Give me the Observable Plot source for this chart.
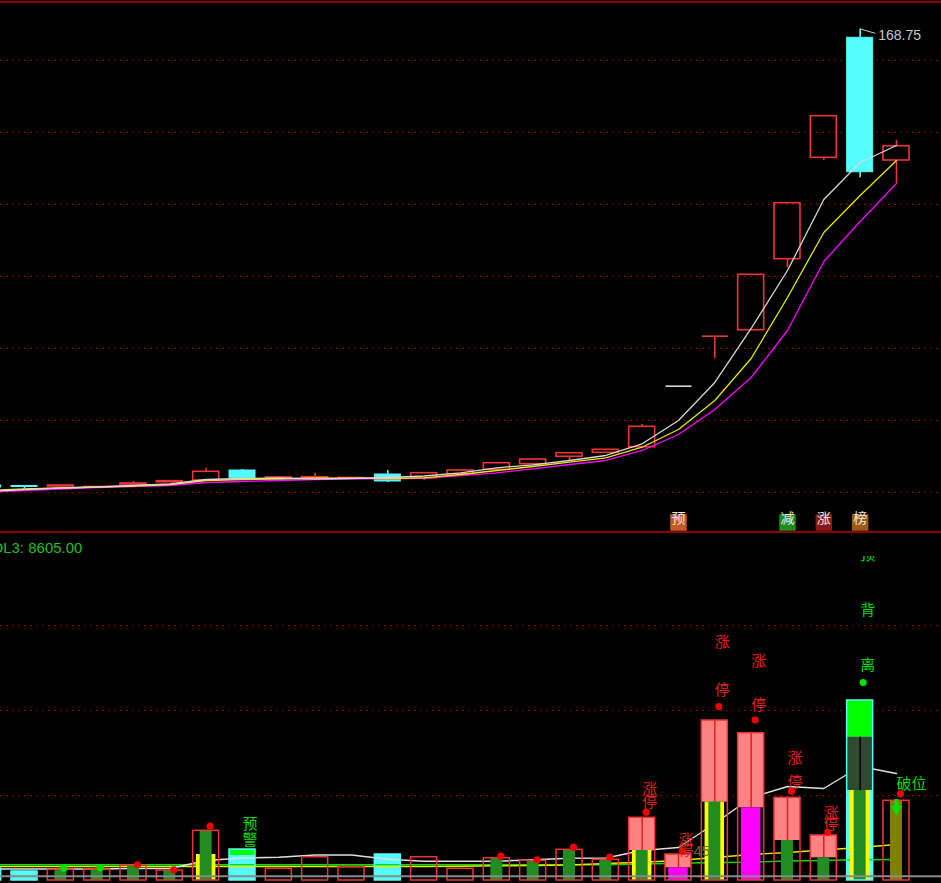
<!DOCTYPE html>
<html><head><meta charset="utf-8">
<script src="https://cdn.jsdelivr.net/npm/d3@7"></script>
<script src="https://cdn.jsdelivr.net/npm/@observablehq/plot@0.6"></script>
<style>
html,body{margin:0;padding:0;background:#000;}
#wrap{position:relative;width:941px;height:883px;overflow:hidden;background:#000;}
#topPanel,#botPanel{position:absolute;left:0;}
#topPanel{top:0;} #botPanel{top:532px;}
.hl{position:absolute;left:0;width:941px;height:2px;background:#8c0000;}
</style></head><body>
<div id="wrap"><div id="topPanel"></div><div id="botPanel"></div>
<div class="hl" style="top:1px"></div><div class="hl" style="top:531px"></div></div>
<script>
// ---------- data ----------
const idx = d3.range(-1, 25); // bar positions (bar -1 is only partly on screen)
const open  = [41.94,41.81,41.67,41.39,42.22,42.86,43.33,46.11,43.89,44.03,43.89,45.00,43.97,45.08,46.31,47.86,49.92,51.03,52.58,69.53,83.42,85.08,104.81,132.97,166.31,132.22];
const close = [41.39,41.53,41.94,41.53,42.50,43.14,45.75,43.97,44.17,44.25,44.03,43.06,45.36,46.11,48.14,49.17,50.92,51.86,58.25,69.53,83.42,100.47,120.36,144.53,128.97,136.19];
const high  = [41.94,41.94,41.94,41.67,43.06,43.14,46.75,46.39,44.31,45.36,44.03,46.11,45.36,46.11,48.14,49.17,50.92,51.86,58.89,69.53,83.42,100.47,120.36,144.53,168.75,137.78];
const low   = [41.11,41.11,41.67,41.25,42.22,42.78,43.33,43.89,43.75,43.89,43.61,42.78,43.33,45.08,46.31,47.50,48.89,50.83,52.58,69.53,77.14,85.08,102.42,132.22,127.42,125.83];
const maWhite   = [40.28,40.83,41.25,41.53,41.94,42.36,43.61,43.89,44.03,43.75,43.89,44.17,44.58,45.47,46.86,47.69,48.89,50.28,53.53,60.00,70.56,85.56,101.67,121.39,131.67,136.39];
const maYellow  = [40.56,40.97,41.25,41.53,41.81,42.22,43.33,43.61,43.75,44.03,43.97,43.89,44.08,45.00,46.11,47.22,48.42,49.64,52.58,57.50,65.56,77.22,94.17,112.22,122.50,132.22];
const maMagenta = [40.14,40.56,40.97,41.39,41.67,41.94,42.78,43.06,43.33,43.61,43.81,43.81,43.94,44.72,45.47,46.58,47.78,48.89,51.67,56.11,63.06,71.94,85.00,104.17,115.28,125.83];
const priceGrid = [40,60,80,100,120,140,160];
const tagBars = [18,21,22,23];
const tagText = ["预","减","涨","榜"];

const volume = [1215,911,1083,1114,1519,1012,5032,3138,1185,2359,1346,2632,2359,1185,2258,1994,3108,2096,6348,2632,16198,14913,8373,4556,18223,8069];
const volWhite  = [1164,1164,1164,1164,1215,1215,2025,2278,2359,2582,2582,2156,1954,1954,1954,2096,2258,2278,3037,3341,5771,8403,9517,9314,11541,10833];
const volYellow = [1417,1417,1417,1417,1417,1417,1417,1417,1417,1417,1417,1417,1417,1448,1488,1519,1569,1721,1853,2025,2329,2632,2835,3088,3341,3645];
const volGreen  = [1589,1589,1589,1589,1589,1589,1589,1589,1589,1589,1589,1589,1589,1589,1589,1589,1589,1589,1670,1751,1822,1853,1974,2025,2096,2126];
const volGrid = [8605,17210,25815];
const refLevel = 430;
const greenBars = [1,2,3,4,5,13,14,15,16,17,19,21,22,23];
const greenVol  = [1083,1114,1519,1012,5032,2258,1994,3108,2096,3037,7927,4050,2298,9112];
const yellowBars = [5,17,19,23];
const yellowVol  = [2632,3037,7927,9112];
const magentaBars = [18,20];
const magentaVol  = [1286,7360];
const oliveBars = [24];
const oliveVol  = [8069];
const pinkBars = [17,18,19,20,21,22];
const pinkLow  = [3037,1286,7927,7360,4050,2298];
const brightBars = [6,23];
const brightLow  = [2531,14508];
const darkBars = [23];
const darkLow  = [9112];
const darkHigh = [14508];
const redDotBars = [3,4,5,13,14,15,16,17,18,19,20,21,22,24];
const redDotVol  = [1589,1083,5497,2460,2096,3371,2359,6915,2966,17616,16269,9041,4890,8777];
const greenDotBars = [1,2,23];
const greenDotVol  = [1245,1286,20046];
const limitBars = [17,18,19,20,21,22];
const zhangVol  = [9284,4050,24125,22202,12422,6813];
const tingVol   = [7927,3037,19236,17717,9952,5740];
const sigBars = [6,6,23,23,23,24];
const sigText = ["预","警","顶","背","离","破位"];
const sigVol  = [5669,4050,32903,27335,21767,9719];
const arrowBar = 24, arrowTop = 8200, arrowTail = 7492, arrowHead = 7239;
const noteBar = 18, noteText = "45", noteVol = 2936;
const volTitle = "VOL3: 8605.00";

// ---------- styles ----------
const RED = "#ee3434", CYAN = "#54fcfc", GRID = "#8c0000";
const FONT = "'Liberation Sans','Noto Sans CJK SC',sans-serif";
const W = 0.358, M = 0.268, N = 0.165;
const xScale = {domain: [-0.6606, 25.239], axis: null};
const tagFill = {"预":"#c65a24","减":"#1e8c1e","涨":"#8b1818","榜":"#9a5a1e"};

// ---------- top (price) panel ----------
const candles = idx.map((i,k) => {
  const o = open[k], c = close[k], h = high[k], l = low[k];
  const color = h === l ? "#d8d8d8" : (c >= o ? RED : CYAN);
  return {i, o, c, h, l, hi: Math.max(o,c), lo: Math.min(o,c), color, down: c < o};
});
const maRows = (arr) => arr.map((v,k) => ({i: idx[k], v}));

const priceChart = Plot.plot({
  width: 941, height: 532, margin: 0,
  x: xScale,
  y: {domain: [28.889, 176.667], axis: null},
  color: {type: "identity"},
  style: {background: "#000", fontFamily: FONT},
  marks: [
    Plot.ruleY(priceGrid, {stroke: GRID, strokeDasharray: "2,4", strokeWidth: 1}),
    Plot.ruleX(candles.filter(d => d.h > d.hi), {x: "i", y1: "hi", y2: "h", stroke: "color", strokeWidth: 1.6}),
    Plot.ruleX(candles.filter(d => d.l < d.lo), {x: "i", y1: "lo", y2: "l", stroke: "color", strokeWidth: 1.6}),
    Plot.rect(candles.filter(d => d.o !== d.c && !d.down), {x1: d => d.i - W, x2: d => d.i + W, y1: "o", y2: "c", fill: "none", stroke: RED, strokeWidth: 1.6}),
    Plot.rect(candles.filter(d => d.down), {x1: d => d.i - W, x2: d => d.i + W, y1: "o", y2: "c", fill: CYAN, stroke: CYAN, strokeWidth: 1}),
    Plot.link(candles.filter(d => d.o === d.c), {x1: d => d.i - W, x2: d => d.i + W, y1: "o", y2: "o", stroke: "color", strokeWidth: 1.6}),
    Plot.line(maRows(maMagenta), {x: "i", y: "v", stroke: "#ff00ff", strokeWidth: 1.3}),
    Plot.line(maRows(maYellow), {x: "i", y: "v", stroke: "#e8e800", strokeWidth: 1.3}),
    Plot.line(maRows(maWhite), {x: "i", y: "v", stroke: "#d8d8d8", strokeWidth: 1.3}),
    Plot.link([candles[24]], {x1: "i", y1: "h", x2: d => d.i + 0.42, y2: d => d.h - 1.2, stroke: "#c8c8c8", strokeWidth: 1}),
    Plot.text([candles[24]], {x: "i", y: "h", text: d => d.h.toFixed(2), dx: 18, dy: 7, textAnchor: "start", fill: "#c8c8c8", fontSize: 14}),
    Plot.dot(tagBars.map((b,j) => ({b, t: tagText[j]})), {x: "b", frameAnchor: "bottom", dy: -10, symbol: "square", r: 9.3, fill: d => tagFill[d.t], stroke: null}),
    Plot.text(tagBars.map((b,j) => ({b, t: tagText[j]})), {x: "b", text: "t", frameAnchor: "bottom", dy: -10, fill: "#f6e8dc", fontSize: 14})
  ]
});
document.getElementById("topPanel").appendChild(priceChart);

// ---------- bottom (volume indicator) panel ----------
const vols = idx.map((i,k) => ({i, v: volume[k], down: close[k] < open[k]}));
const band = (bars, lo, hi, w) => bars.map((b,j) => ({i: b, x1: b - w, x2: b + w, y1: lo[j], y2: hi[j]}));
const zeros = (a) => a.map(() => 0);
const volOf = (bars) => bars.map(b => volume[b + 1]);

const volChart = Plot.plot({
  width: 941, height: 351, marginTop: 24, marginBottom: 3, marginLeft: 0, marginRight: 0,
  x: xScale,
  y: {domain: [0, 32802], axis: null},
  color: {type: "identity"},
  style: {background: "#000", fontFamily: FONT},
  marks: [
    Plot.ruleY(volGrid, {stroke: GRID, strokeDasharray: "2,4", strokeWidth: 1}),
    Plot.rect(vols.filter(d => d.down), {x1: d => d.i - W, x2: d => d.i + W, y1: 0, y2: "v", fill: CYAN}),
    Plot.line(maRows(volGreen), {x: "i", y: "v", stroke: "#00e000", strokeWidth: 1.4}),
    Plot.line(maRows(volYellow), {x: "i", y: "v", stroke: "#e8e800", strokeWidth: 1.4}),
    Plot.line(maRows(volWhite), {x: "i", y: "v", stroke: "#e0e0e0", strokeWidth: 1.4}),
    Plot.rect(band(pinkBars, pinkLow, volOf(pinkBars), W), {x1: "x1", x2: "x2", y1: "y1", y2: "y2", fill: "#ff8282"}),
    Plot.rect(band(brightBars, brightLow, volOf(brightBars), W), {x1: "x1", x2: "x2", y1: "y1", y2: "y2", fill: "#00ff00"}),
    Plot.rect(band(darkBars, darkLow, darkHigh, W), {x1: "x1", x2: "x2", y1: "y1", y2: "y2", fill: "#2f4a2f"}),
    Plot.rect(band(yellowBars, zeros(yellowBars), yellowVol, M), {x1: "x1", x2: "x2", y1: "y1", y2: "y2", fill: "#ffff00"}),
    Plot.rect(band(magentaBars, zeros(magentaBars), magentaVol, M), {x1: "x1", x2: "x2", y1: "y1", y2: "y2", fill: "#ff00ff"}),
    Plot.rect(band(greenBars, zeros(greenBars), greenVol, N), {x1: "x1", x2: "x2", y1: "y1", y2: "y2", fill: "#228b22"}),
    Plot.rect(band(oliveBars, zeros(oliveBars), oliveVol, N), {x1: "x1", x2: "x2", y1: "y1", y2: "y2", fill: "#808000"}),
    Plot.ruleX(band(pinkBars, pinkLow, volOf(pinkBars), W), {x: "i", y1: "y1", y2: "y2", stroke: "#e02020", strokeWidth: 1.5}),
    Plot.ruleX(band(darkBars, darkLow, darkHigh, W), {x: "i", y1: "y1", y2: "y2", stroke: "#000", strokeWidth: 1.5}),
    Plot.rect(vols, {x1: d => d.i - W, x2: d => d.i + W, y1: 0, y2: "v", fill: "none", stroke: d => d.down ? CYAN : RED, strokeWidth: 1.5}),
    Plot.ruleY([refLevel], {stroke: "#8a8a8a", strokeWidth: 2}),
    Plot.dot(redDotBars.map((b,j) => ({b, v: redDotVol[j]})), {x: "b", y: "v", dx: 4, r: 3.6, fill: "#f00000", stroke: null}),
    Plot.dot(greenDotBars.map((b,j) => ({b, v: greenDotVol[j]})), {x: "b", y: "v", dx: 3, r: 3.6, fill: "#00e000", stroke: null}),
    Plot.ruleX([arrowBar], {x: d => d, y1: arrowTop, y2: arrowTail, stroke: "#00e000", strokeWidth: 4}),
    Plot.dot([arrowBar], {x: d => d, y: arrowHead, symbol: "triangle", rotate: 180, r: 4.3, fill: "#00e000", stroke: null}),
    Plot.text(limitBars.map((b,j) => ({b, v: zhangVol[j]})), {x: "b", y: "v", text: () => "涨", textAnchor: "start", fill: "#e61e1e", fontSize: 15}),
    Plot.text(limitBars.map((b,j) => ({b, v: tingVol[j]})), {x: "b", y: "v", text: () => "停", textAnchor: "start", fill: "#e61e1e", fontSize: 15}),
    Plot.text(sigBars.map((b,j) => ({b, t: sigText[j], v: sigVol[j]})), {x: "b", y: "v", text: "t", textAnchor: "start", fill: "#00dd00", fontSize: 15, clip: true}),
    Plot.text([{b: noteBar, t: noteText, v: noteVol}], {x: "b", y: "v", text: "t", dx: 15, textAnchor: "start", fill: "#6b6b23", fontSize: 15}),
    Plot.text([volTitle], {frameAnchor: "top-left", dx: -19, dy: -14, textAnchor: "start", fill: "#1fbf1f", fontSize: 15})
  ]
});
document.getElementById("botPanel").appendChild(volChart);
</script>
</body></html>
